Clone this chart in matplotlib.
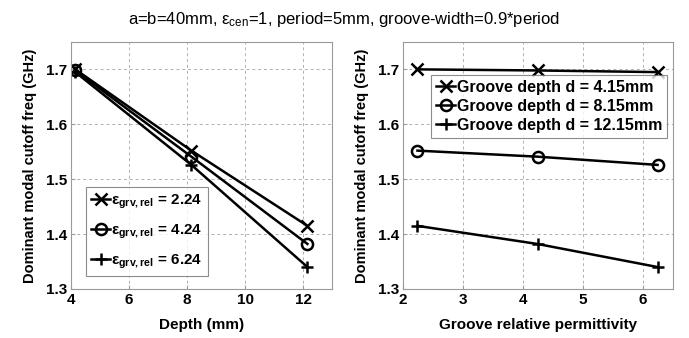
import numpy as np
import matplotlib
matplotlib.use('Agg')
import matplotlib.pyplot as plt

plt.rcParams['font.family'] = ['Liberation Sans', 'DejaVu Sans']
plt.rcParams['mathtext.fontset'] = 'custom'
plt.rcParams['mathtext.rm'] = 'Liberation Sans'
plt.rcParams['mathtext.bf'] = 'Liberation Sans:bold'
plt.rcParams['mathtext.it'] = 'Liberation Sans:italic'

# groove depths (mm) and groove permittivities
depth = [4.15, 8.15, 12.15]
eps_grv = [2.24, 4.24, 6.24]

# cutoff freq (GHz), rows = permittivity, columns = depth
f_eps224 = [1.700, 1.552, 1.415]
f_eps424 = [1.698, 1.541, 1.382]
f_eps624 = [1.695, 1.526, 1.340]

freq = np.array([f_eps224, f_eps424, f_eps624])
markers = ['x', 'o', '+']

fig = plt.figure(figsize=(6.89, 3.38), dpi=100)
ax1 = fig.add_axes([0.103, 0.145, 0.379, 0.731])
ax2 = fig.add_axes([0.585, 0.145, 0.392, 0.731])

lw = 1.8
for i in range(3):
    ax1.plot(depth, freq[i], color='k', lw=lw, marker=markers[i], ms=8,
             mfc='none', mew=1.8,
             label=r'$\mathbf{\varepsilon_{grv,rel}}$ = %.2f' % eps_grv[i])
for j in range(3):
    ax2.plot(eps_grv, freq[:, j], color='k', lw=lw, marker=markers[j], ms=8,
             mfc='none', mew=1.8,
             label='Groove depth d = %.2fmm' % depth[j])

ax1.set_xlim(4, 13)
ax1.set_xticks([4, 6, 8, 10, 12])
ax2.set_xlim(2, 6.5)
ax2.set_xticks([2, 3, 4, 5, 6])
for ax in (ax1, ax2):
    ax.set_ylim(1.3, 1.75)
    ax.set_yticks([1.3, 1.4, 1.5, 1.6, 1.7])
    ax.grid(True, ls=(0, (3, 3)), color='#b0b0b0', lw=0.7)
    for s in ax.spines.values():
        s.set_color('#9a9a9a')
        s.set_linewidth(0.8)
    ax.tick_params(direction='in', length=3, color='#9a9a9a', labelsize=11,
                   pad=3)
    for t in ax.get_xticklabels() + ax.get_yticklabels():
        t.set_fontweight('bold')
    ax.set_ylabel('Dominant modal cutoff freq (GHz)', fontsize=10.5,
                  fontweight='bold', labelpad=6)

ax1.set_xlabel('Depth (mm)', fontsize=11, fontweight='bold', labelpad=8)
ax2.set_xlabel('Groove relative permittivity', fontsize=11,
               fontweight='bold', labelpad=8)

leg1 = ax1.legend(loc='lower left', bbox_to_anchor=(0.058, 0.053),
                  borderaxespad=0, fancybox=False, edgecolor='#707070',
                  handlelength=1.2, handletextpad=0.1, borderpad=0.35,
                  labelspacing=0.75, prop={'size': 11, 'weight': 'bold'})
leg1.get_frame().set_linewidth(0.8)
leg2 = ax2.legend(loc='upper right', bbox_to_anchor=(0.978, 0.866),
                  borderaxespad=0, fancybox=False, edgecolor='#707070',
                  handlelength=1.2, handletextpad=0.1, borderpad=0.3,
                  labelspacing=0.25, prop={'size': 11.5, 'weight': 'bold'})
leg2.get_frame().set_linewidth(0.8)

fig.suptitle(r'a=b=40mm, $\mathrm{\varepsilon_{cen}}$=1, period=5mm, groove-width=0.9*period',
             x=0.5, y=0.97, fontsize=12)

fig.savefig('out.png', dpi=100)
